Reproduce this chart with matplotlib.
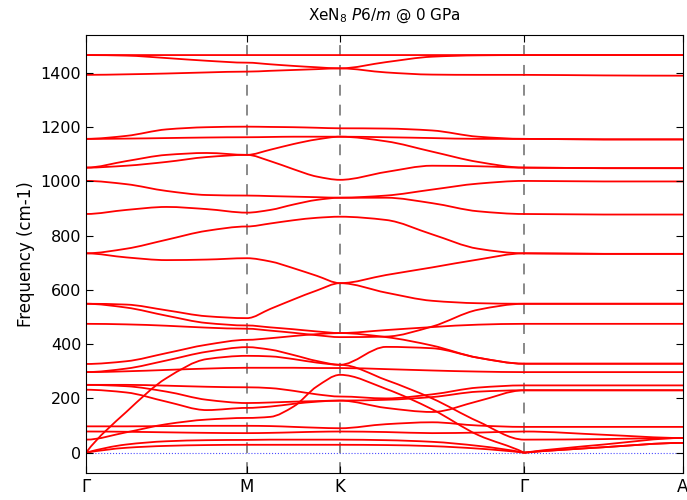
import matplotlib
matplotlib.use("Agg")
import matplotlib.pyplot as plt
from matplotlib.path import Path
from matplotlib.patches import PathPatch
import numpy as np

# High-symmetry path (distance units) and labels
kpoint_labels = ["Γ", "M", "K", "Γ", "A"]
kpoint_pos = [0.0, 1.0, 1.578, 2.721, 3.708]
samples_per_segment = [5, 5, 5, 3]   # read positions per segment (ends included)

# Phonon branches (cm-1) read at the sample positions:
# Γ-M (5 values), M-K (4 more), K-Γ (4 more), Γ-A (2 more)
b01 = [1466, 1466, 1466, 1466, 1466, 1466, 1466, 1466, 1466, 1466, 1466, 1466, 1466, 1466, 1466]
b02 = [1466, 1464, 1455, 1445, 1438, 1432, 1426, 1421, 1417, 1440, 1460, 1465, 1466, 1466, 1466]
b03 = [1393, 1395, 1398, 1402, 1405, 1408, 1411, 1414, 1417, 1402, 1394, 1393, 1393, 1391, 1390]
b04 = [1157, 1168, 1192, 1200, 1202, 1201, 1200, 1198, 1196, 1195, 1188, 1165, 1157, 1155, 1155]
b05 = [1157, 1158, 1160, 1162, 1163, 1164, 1165, 1165, 1165, 1163, 1160, 1157, 1157, 1155, 1155]
b06 = [1051, 1075, 1098, 1105, 1098, 1117, 1138, 1155, 1165, 1148, 1110, 1072, 1051, 1049, 1049]
b07 = [1051, 1058, 1072, 1090, 1098, 1075, 1045, 1018, 1006, 1035, 1058, 1056, 1051, 1049, 1049]
b08 = [1002, 990, 965, 950, 948, 946, 944, 942, 940, 948, 970, 992, 1002, 1000, 1000]
b09 = [880, 895, 906, 898, 885, 895, 915, 932, 940, 940, 920, 890, 880, 878, 878]
b10 = [735, 752, 785, 818, 834, 845, 857, 866, 870, 858, 805, 752, 735, 733, 733]
b11 = [735, 720, 710, 712, 717, 705, 680, 652, 625, 590, 560, 551, 549, 549, 549]
b12 = [549, 546, 525, 503, 496, 530, 565, 598, 625, 655, 683, 712, 735, 733, 733]
b13 = [549, 535, 505, 478, 469, 462, 455, 447, 441, 426, 395, 350, 328, 328, 328]
b14 = [475, 473, 468, 461, 457, 450, 442, 433, 426, 428, 465, 527, 549, 549, 549]
b15 = [327, 337, 367, 398, 416, 422, 430, 437, 441, 452, 463, 472, 475, 475, 475]
b16 = [297, 310, 340, 372, 389, 380, 360, 338, 324, 390, 385, 350, 328, 328, 328]
b17 = [297, 300, 305, 310, 313, 313, 313, 312, 312, 308, 303, 299, 297, 297, 297]
b18 = [0, 150, 275, 345, 357, 355, 345, 332, 324, 268, 200, 115, 48, 50, 54]
b19 = [48, 75, 105, 122, 128, 132, 170, 244, 287, 235, 160, 65, 0, 30, 54]
b20 = [250, 250, 247, 243, 241, 238, 228, 215, 207, 200, 215, 240, 248, 248, 248]
b21 = [232, 222, 188, 157, 165, 170, 180, 188, 192, 165, 150, 190, 230, 230, 230]
b22 = [250, 245, 225, 195, 183, 185, 188, 190, 192, 195, 205, 225, 230, 230, 230]
b23 = [97, 97, 98, 99, 99, 98, 95, 92, 90, 105, 112, 100, 95, 95, 95]
b24 = [78, 77, 75, 73, 72, 73, 75, 77, 78, 76, 72, 74, 78, 66, 54]
b25 = [0, 30, 42, 46, 47, 48, 48, 48, 48, 46, 40, 25, 0, 20, 36]
b26 = [0, 18, 25, 28, 29, 29, 29, 29, 29, 28, 24, 15, 0, 20, 36]

branches = [b01, b02, b03, b04, b05, b06, b07, b08, b09, b10, b11, b12, b13,
            b14, b15, b16, b17, b18, b19, b20, b21, b22, b23, b24, b25, b26]

title_text = "XeN$_8$ $P6/m$ @ 0 GPa"
ylabel_text = "Frequency (cm-1)"
yticks = [0, 200, 400, 600, 800, 1000, 1200, 1400]


def segment_positions():
    segs = []
    for i, n in enumerate(samples_per_segment):
        segs.append(np.linspace(kpoint_pos[i], kpoint_pos[i + 1], n))
    return segs


def branch_path(values):
    """Smooth path through the read values (monotone cubic per segment)."""
    segs = segment_positions()
    verts, codes = [], []
    start = 0
    for si, xs in enumerate(segs):
        n = len(xs)
        ys = np.asarray(values[start:start + n], dtype=float)
        start += n - 1
        h = np.diff(xs)
        d = np.diff(ys) / h
        m = np.zeros(n)
        for i in range(1, n - 1):
            if d[i - 1] * d[i] > 0:
                m[i] = 2.0 / (1.0 / d[i - 1] + 1.0 / d[i])
        # acoustic branches leave Γ linearly
        if ys[0] == 0 and kpoint_labels[si] == "Γ":
            m[0] = d[0] * 1.3
        if ys[-1] == 0 and kpoint_labels[si + 1] == "Γ":
            m[-1] = d[-1] * 1.3
        if si == 0:
            verts.append((xs[0], ys[0]))
            codes.append(Path.MOVETO)
        for i in range(n - 1):
            verts += [(xs[i] + h[i] / 3, ys[i] + m[i] * h[i] / 3),
                      (xs[i + 1] - h[i] / 3, ys[i + 1] - m[i + 1] * h[i] / 3),
                      (xs[i + 1], ys[i + 1])]
            codes += [Path.CURVE4] * 3
    return Path(verts, codes)


plt.rcParams['font.family'] = ['DejaVu Sans']
fig = plt.figure(figsize=(6.87, 5.0), dpi=100)
ax = fig.add_axes([0.1252, 0.054, 0.8690, 0.876])

for br in branches:
    ax.add_patch(PathPatch(branch_path(br), facecolor="none", edgecolor="red",
                           lw=1.3, capstyle="round", joinstyle="round"))

ax.axhline(0, color="blue", lw=0.8, ls=":", alpha=0.7, zorder=0)
for xp in kpoint_pos[1:-1]:
    ax.axvline(xp, color="gray", lw=1.3, ls=(0, (6, 5)), zorder=0)

ax.set_xlim(kpoint_pos[0], kpoint_pos[-1])
ax.set_ylim(-75, 1540)
ax.set_xticks(kpoint_pos)
ax.set_xticklabels(kpoint_labels, fontsize=12)
ax.set_yticks(yticks)
ax.tick_params(axis="y", labelsize=11.5, direction="in", right=True, length=5)
ax.tick_params(axis="x", direction="in", top=True, length=5)
ax.set_ylabel(ylabel_text, fontsize=12)
ax.set_title(title_text, fontsize=11, pad=11)

fig.savefig("out.png", dpi=100)
